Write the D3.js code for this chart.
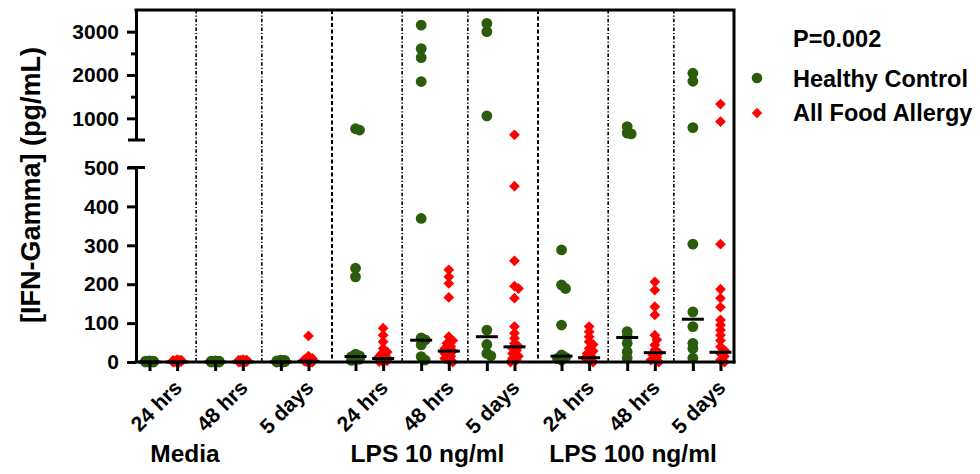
<!DOCTYPE html>
<html>
<head>
<meta charset="utf-8">
<script src="https://cdn.jsdelivr.net/npm/d3@7"></script>
<style>
  html, body { margin: 0; padding: 0; background: #fff; }
  svg { display: block; font-family: "Liberation Sans", Arial, Helvetica, sans-serif; font-weight: bold; }
</style>
</head>
<body>
<svg id="chart" width="980" height="474"></svg>
<script>
// ---- data ----
const treatments = ["Media", "LPS 10 ng/ml", "LPS 100 ng/ml"];
const timepoints = ["24 hrs", "48 hrs", "5 days"];
const seriesNames = ["Healthy Control", "All Food Allergy"];
const pValueLabel = "P=0.002";
const yTitle = "[IFN-Gamma] (pg/mL)";

// IFN-gamma (pg/mL) per subject, one list per treatment x time point
const healthyControl = [
  [0, 0, 0, 1, 1, 2, 2, 3, 0, 1],
  [0, 0, 1, 1, 2, 0, 1, 2, 3, 0],
  [0, 1, 2, 3, 4, 5, 2, 1, 0, 3],
  [760, 730, 241, 219, 20, 16, 14, 10, 7, 4],
  [3151, 2609, 2400, 1849, 369, 62, 57, 44, 14, 5],
  [3190, 3000, 1058, 82, 45, 22, 16],
  [288, 198, 189, 95, 18, 12, 9, 5],
  [810, 660, 640, 78, 65, 48, 26, 10],
  [2040, 1856, 786, 303, 129, 91, 48, 35, 10]
];
const foodAllergy = [
  [0, 0, 1, 1, 2, 2, 3, 3, 4, 5, 6, 0, 1, 2, 3, 4],
  [0, 1, 1, 2, 2, 3, 4, 5, 6, 0, 1, 2, 3, 0, 4, 5],
  [67, 15, 9, 6, 4, 3, 2, 1, 0, 0, 1, 2, 3, 5, 7, 0],
  [87, 69, 52, 35, 26, 20, 14, 10, 8, 5, 3, 1, 0, 12, 18, 6],
  [237, 219, 202, 166, 65, 55, 48, 40, 35, 28, 22, 15, 9, 4, 0, 30],
  [620, 452, 260, 195, 189, 164, 91, 74, 61, 48, 35, 22, 9, 0, 40, 30, 15, 5],
  [91, 78, 65, 52, 35, 22, 10, 0, 14, 5, 28, 45],
  [206, 185, 142, 121, 69, 57, 44, 31, 18, 5, 24, 12, 0],
  [1330, 925, 303, 187, 164, 141, 108, 95, 82, 69, 39, 22, 5, 0, 15, 30, 55]
];
// group medians
const healthyMedian = [0, 0, 0, 14, 56, 65, 15, 63, 110];
const allergyMedian = [0, 0, 2, 9, 28, 39, 11, 24, 25];

const lowerTicks = [0, 100, 200, 300, 400, 500];
const upperTicks = [1000, 2000, 3000];
const upperMinorTicks = [1500, 2500];

// ---- layout ----
const colors = ["#2a5c0c", "#ff0000"];
const axisX = 136, rightX = 734, topY = 10, baseY = 362;
const lowTopY = 167.5, highBottomY = 140;

// horizontal layout in "slot" units: 1 unit between the two series of a pair
const pad = 0.489, pairGap = 1.377, groupGap = 1.703;
const groupStride = 3 + 2 * pairGap + groupGap;
const totalUnits = 2 * pad + 9 + 6 * pairGap + 2 * groupGap;
const x = d3.scaleLinear().domain([0, totalUnits]).range([axisX, rightX]);
const slotUnit = (i, s) => pad + Math.floor(i / 3) * groupStride + (i % 3) * (1 + pairGap) + s;

const yLow = d3.scaleLinear().domain([0, 500]).range([baseY, lowTopY]);
const yHigh = d3.scaleLinear().domain([500, 3500]).range([highBottomY, topY]);
const yOf = v => (v > 500 ? yHigh(v) : yLow(v));

const svg = d3.select("#chart");
const stroke = 3;

// ---- vertical separators between time points and treatments ----
const sepUnits = [];
for (let i = 0; i < 8; i++) sepUnits.push({ u: (slotUnit(i, 1) + slotUnit(i + 1, 0)) / 2, major: i % 3 === 2 });
svg.append("g").selectAll("line").data(sepUnits).join("line")
  .attr("x1", d => x(d.u)).attr("x2", d => x(d.u))
  .attr("y1", topY).attr("y2", baseY)
  .attr("stroke", "#000")
  .attr("stroke-width", d => d.major ? 2 : 1.6)
  .attr("stroke-dasharray", d => d.major ? "4,2.5" : "3.5,2,1.2,2");

// ---- points ----
function swarm(values, cx) {
  const placed = [];
  const cands = [0, 2, -2, 4, -4];
  const pts = values.map(v => ({ v, y: yOf(v) })).sort((a, b) => a.y - b.y);
  pts.forEach(p => {
    let best = 0, bestD = -1;
    for (const dx of cands) {
      const d = placed.length ? d3.min(placed, q => Math.hypot(q.dx - dx, q.y - p.y)) : Infinity;
      if (d >= 5) { best = dx; bestD = d; break; }
      if (d > bestD + 0.5) { best = dx; bestD = d; }
    }
    p.dx = best;
    placed.push(p);
  });
  return pts.map(p => ({ x: cx + p.dx, y: p.y, v: p.v }));
}

const diamond = (r) => `M0,${-r}L${r},0L0,${r}L${-r},0Z`;

const gPts = svg.append("g");
[healthyControl, foodAllergy].forEach((series, s) => {
  series.forEach((vals, i) => {
    const pts = swarm(vals, x(slotUnit(i, s)));
    if (s === 0) {
      gPts.append("g").selectAll("circle").data(pts).join("circle")
        .attr("cx", d => d.x).attr("cy", d => d.y).attr("r", 5.4)
        .attr("fill", colors[0]);
    } else {
      gPts.append("g").selectAll("path").data(pts).join("path")
        .attr("transform", d => `translate(${d.x},${d.y})`)
        .attr("d", diamond(5.4))
        .attr("fill", colors[1]);
    }
  });
});

// ---- median bars ----
const medians = [];
healthyMedian.forEach((m, i) => medians.push({ u: slotUnit(i, 0), m }));
allergyMedian.forEach((m, i) => medians.push({ u: slotUnit(i, 1), m }));
svg.append("g").selectAll("line").data(medians).join("line")
  .attr("x1", d => x(d.u) - 11).attr("x2", d => x(d.u) + 11)
  .attr("y1", d => yOf(d.m)).attr("y2", d => yOf(d.m))
  .attr("stroke", "#000").attr("stroke-width", 3);

// ---- axes ----
function styleAxis(g, fontSize) {
  g.selectAll("path.domain").attr("stroke", "#000").attr("stroke-width", stroke);
  g.selectAll(".tick line").attr("stroke", "#000").attr("stroke-width", stroke);
  g.selectAll(".tick text").attr("fill", "#000").style("font-size", fontSize + "px")
    .style("font-weight", "bold").style("font-family", "'Liberation Sans', Arial, sans-serif");
}

const fmt = d3.format("d");
const axLow = svg.append("g").attr("transform", `translate(${axisX},0)`)
  .call(d3.axisLeft(yLow).tickValues(lowerTicks).tickFormat(fmt).tickSize(9).tickSizeOuter(0).tickPadding(8));
styleAxis(axLow, 21);

const axHigh = svg.append("g").attr("transform", `translate(${axisX},0)`)
  .call(d3.axisLeft(yHigh).tickValues(upperTicks).tickFormat(fmt).tickSize(9).tickSizeOuter(0).tickPadding(8));
styleAxis(axHigh, 21);

const axMinor = svg.append("g").attr("transform", `translate(${axisX},0)`)
  .call(d3.axisLeft(yHigh).tickValues(upperMinorTicks).tickSize(5).tickFormat(""));
axMinor.select("path.domain").remove();
styleAxis(axMinor, 21);

// break caps on the y axis
svg.append("g").selectAll("line").data([highBottomY, lowTopY]).join("line")
  .attr("x1", axisX - 8).attr("x2", axisX + 9)
  .attr("y1", d => d).attr("y2", d => d)
  .attr("stroke", "#000").attr("stroke-width", stroke);

// frame: top and right edges
svg.append("path")
  .attr("d", `M${axisX},${topY}H${rightX}V${baseY}`)
  .attr("fill", "none").attr("stroke", "#000").attr("stroke-width", stroke)
  .attr("stroke-linecap", "square");

// x axis with a tick under each series
const slotList = [];
for (let i = 0; i < 9; i++) { slotList.push(slotUnit(i, 0), slotUnit(i, 1)); }
const axX = svg.append("g").attr("transform", `translate(0,${baseY})`)
  .call(d3.axisBottom(x).tickValues(slotList).tickSize(9).tickSizeOuter(0).tickFormat(""));
axX.select("path.domain").attr("d", `M${axisX},0H${rightX}`);
styleAxis(axX, 21);
axX.select("path.domain").attr("stroke-linecap", "square");

// time-point labels (rotated)
const tpLabels = d3.range(9).map(i => ({ i, text: timepoints[i % 3], cx: x(slotUnit(i, 0.5)) }));
svg.append("g").selectAll("text").data(tpLabels).join("text")
  .attr("transform", d => `translate(${d.cx + 20},${389}) rotate(-45)`)
  .attr("text-anchor", "end")
  .style("font-size", "21px")
  .text(d => d.text);

// treatment labels
const labelShift = [-44, -7.5, -8];
svg.append("g").selectAll("text").data(treatments).join("text")
  .attr("x", (d, g) => x((slotUnit(g * 3, 0) + slotUnit(g * 3 + 2, 1)) / 2) + labelShift[g])
  .attr("y", 462)
  .attr("text-anchor", "middle")
  .style("font-size", "24.5px")
  .text(d => d);

// y title
svg.append("text")
  .attr("transform", `translate(40,185) rotate(-90)`)
  .attr("text-anchor", "middle")
  .style("font-size", "27px")
  .text(yTitle);

// ---- legend ----
const lg = svg.append("g");
lg.append("text").attr("x", 793).attr("y", 47).style("font-size", "23.5px").text(pValueLabel);
const legendRows = [{ name: seriesNames[0], y: 87, cy: 78 }, { name: seriesNames[1], y: 121, cy: 113 }];
lg.append("circle").attr("cx", 757).attr("cy", legendRows[0].cy).attr("r", 5.3).attr("fill", colors[0]);
lg.append("path").attr("transform", `translate(757,${legendRows[1].cy})`).attr("d", diamond(5.2)).attr("fill", colors[1]);
lg.selectAll("text.row").data(legendRows).join("text").attr("class", "row")
  .attr("x", 793).attr("y", d => d.y).style("font-size", "23.5px").text(d => d.name);
</script>
</body>
</html>
